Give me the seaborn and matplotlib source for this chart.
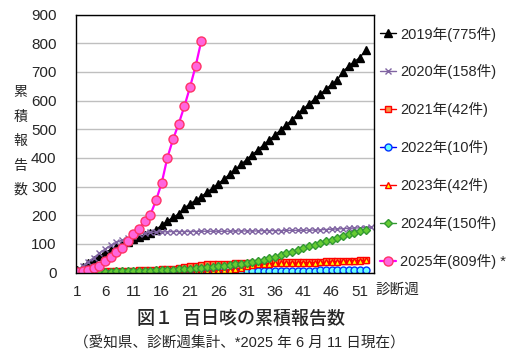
import matplotlib
matplotlib.use("Agg")
import matplotlib.pyplot as plt
import numpy as np
import seaborn as sns

# 累積報告数
y2019 = [8, 20, 32, 45, 58, 70, 80, 90, 100, 108,
         116, 125, 131, 138, 150, 165, 180, 192, 205, 225,
         240, 252, 265, 280, 295, 310, 326, 343, 360, 377,
         394, 411, 428, 445, 462, 480, 497, 515, 533, 552,
         570, 588, 605, 622, 640, 656, 672, 700, 720, 735,
         750, 775]
y2020 = [8, 22, 38, 52, 68, 82, 95, 105, 113, 120,
         127, 133, 137, 140, 141, 142, 142, 143, 143, 143,
         143, 143, 144, 144, 144, 144, 144, 144, 145, 145,
         145, 145, 145, 146, 146, 146, 146, 147, 147, 147,
         147, 148, 148, 149, 150, 151, 152, 153, 154, 155,
         156, 157, 158]
y2021 = [1, 2, 2, 3, 3, 4, 5, 5, 6, 7,
         7, 8, 8, 9, 10, 11, 12, 14, 16, 18,
         21, 24, 26, 28, 29, 30, 31, 31, 32, 33,
         33, 34, 34, 34, 35, 35, 35, 35, 36, 36,
         36, 37, 37, 38, 39, 40, 40, 41, 41, 41,
         42, 42]
y2022 = [0, 0, 0, 0, 0, 0, 0, 0, 0, 0,
         0, 0, 0, 1, 1, 1, 1, 1, 1, 1,
         1, 2, 2, 2, 3, 3, 3, 3, 4, 4,
         4, 5, 5, 5, 5, 5, 6, 6, 6, 6,
         7, 7, 7, 8, 8, 8, 9, 9, 9, 9,
         10, 10]
y2023 = [0, 0, 1, 1, 1, 1, 1, 2, 2, 2,
         2, 2, 3, 3, 3, 3, 3, 4, 4, 4,
         4, 5, 5, 5, 6, 7, 8, 10, 13, 17,
         21, 25, 28, 30, 31, 32, 32, 33, 33, 33,
         34, 34, 34, 35, 36, 37, 38, 39, 40, 41,
         41, 42]
y2024 = [0, 1, 1, 2, 2, 3, 3, 4, 4, 5,
         6, 6, 7, 7, 8, 8, 9, 10, 11, 12,
         13, 15, 16, 18, 20, 22, 24, 26, 28, 30,
         33, 36, 40, 44, 50, 55, 61, 67, 73, 79,
         85, 91, 97, 103, 109, 115, 121, 127, 133, 139,
         145, 150]
y2025 = [1, 5, 9, 15, 24, 41, 53, 72, 87, 110,
         134, 153, 179, 202, 252, 313, 401, 465, 519, 580,
         647, 721, 809]

labels = ["2019年(775件)", "2020年(158件)", "2021年(42件)", "2022年(10件)",
          "2023年(42件)", "2024年(150件)", "2025年(809件) *"]
xticks = [1, 6, 11, 16, 21, 26, 31, 36, 41, 46, 51]
yticks = [0, 100, 200, 300, 400, 500, 600, 700, 800, 900]

series = [y2019, y2020, y2021, y2022, y2023, y2024, y2025]

# line colour, marker, marker face, marker edge, marker size, line width
styles = [
    ("black", "^", "black", "black", 6.0, 1.0),
    ("#8064A2", "x", "#8064A2", "#8064A2", 5.0, 1.0),
    ("red", "s", "#F79646", "red", 4.5, 1.0),
    ("#0000FF", "o", "#66FFFF", "#0033FF", 5.0, 1.0),
    ("red", "^", "#FFFF00", "red", 5.0, 1.0),
    ("#339933", "D", "#66CC33", "#339933", 4.5, 1.0),
    ("#FF00FF", "o", "#FF66DD", "#FF3366", 6.5, 1.6),
]

sns.set_style("white")
plt.rcParams['font.family'] = ['Liberation Sans', 'Noto Sans CJK JP', 'DejaVu Sans']

fig = plt.figure(figsize=(5.23, 3.62), dpi=100)
ax = fig.add_axes([0.1453, 0.2472, 0.5698, 0.7127])

for vals, lab, st in zip(series, labels, styles):
    weeks = np.arange(1, len(vals) + 1)
    lc, mk, mfc, mec, ms, lw = st
    sns.lineplot(x=weeks, y=vals, ax=ax, color=lc, marker=mk, markerfacecolor=mfc,
                 markeredgecolor=mec, markersize=ms, markeredgewidth=1.0,
                 linewidth=lw, label=lab, legend=False)

ax.set_xlim(0.85, 53.5)
ax.set_ylim(0, 900)
ax.set_xticks(xticks)
ax.set_yticks(yticks)
ax.set_xticklabels([str(t) for t in xticks], fontsize=11)
ax.set_yticklabels([str(t) for t in yticks], fontsize=11)
ax.tick_params(axis='y', direction='in', length=5, width=1, color='black', pad=14)
ax.tick_params(axis='x', length=0, pad=9)
ax.grid(axis='y', color='#BFBFBF', linewidth=1)
ax.set_axisbelow(True)
for sp in ax.spines.values():
    sp.set_color('black')
    sp.set_linewidth(1)
ax.set_xlabel("")
ax.set_ylabel("")

fig.text(0.717, 0.199, "診断週", fontsize=10.5, ha='left', va='center')
fig.text(0.039, 0.61, "累\n積\n報\n告\n数", fontsize=10, ha='center', va='center',
         linespacing=1.95)

handles, labs = ax.get_legend_handles_labels()
fig.legend(handles, labs, loc='upper left', bbox_to_anchor=(0.715, 0.943),
           frameon=False, fontsize=10.5, handlelength=1.1, handletextpad=0.3,
           labelspacing=1.56, borderaxespad=0)

fig.text(0.46, 0.117, "図１  百日咳の累積報告数", fontsize=13, weight='medium',
         ha='center', va='center')
fig.text(0.457, 0.052, "（愛知県、診断週集計、*2025 年 6 月 11 日現在）", fontsize=10.5,
         ha='center', va='center')

fig.savefig("out.png", dpi=100)
